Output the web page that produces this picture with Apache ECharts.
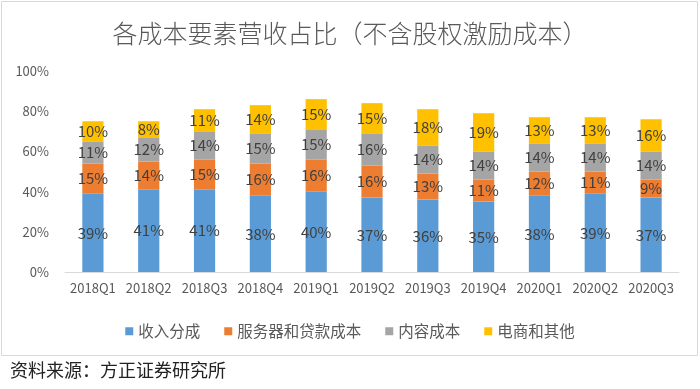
<!DOCTYPE html>
<html><head><meta charset="utf-8">
<script src="https://cdn.jsdelivr.net/npm/echarts@6/dist/echarts.min.js"></script>
<style>html,body{margin:0;padding:0;background:#fff}#c{width:700px;height:389px}</style>
</head><body><div id="c"></div>
<script>
var categories = ['2018Q1','2018Q2','2018Q3','2018Q4','2019Q1','2019Q2','2019Q3','2019Q4','2020Q1','2020Q2','2020Q3'];
var revenueShare = [39,41,41,38,40,37,36,35,38,39,37];
var serverBandwidth = [15,14,15,16,16,16,13,11,12,11,9];
var contentCost = [11,12,14,15,15,16,14,14,14,14,14];
var ecomOther = [10,8,11,14,15,15,18,19,13,13,16];
var seriesNames = ['收入分成','服务器和贷款成本','内容成本','电商和其他'];
var colors = ['#5B9BD5','#ED7D31','#A5A5A5','#FFC000'];
var font = '"Noto Sans CJK SC", "Noto Sans", sans-serif';
var chart = echarts.init(document.getElementById('c'), null, {renderer:'canvas'});
var datas = [revenueShare, serverBandwidth, contentCost, ecomOther];
var series = datas.map(function(d,i){
  return {
    name: seriesNames[i], type:'bar', stack:'total', data:d, barWidth:'38%',
    itemStyle:{color:colors[i]},
    label:{show:true, position:'inside', formatter:'{c}%', color:'#404040', fontSize:15, fontFamily:font},
    emphasis:{disabled:true}
  };
});
chart.setOption({
  animation:false,
  title:{text:'各成本要素营收占比（不含股权激励成本）', left:'center', top:16,
    textStyle:{fontSize:25, fontWeight:300, color:'#595959', fontFamily:font}},
  legend:{data:seriesNames, bottom:45, left:'center', itemWidth:8, itemHeight:8, icon:'rect', itemGap:24,
    textStyle:{fontSize:15.5, color:'#595959', fontFamily:font}},
  grid:{left:65, right:21, top:71, bottom:117},
  xAxis:{type:'category', data:categories,
    axisLine:{lineStyle:{color:'#D9D9D9'}}, axisTick:{show:false},
    axisLabel:{color:'#595959', fontSize:13, fontFamily:font, interval:0, margin:10}},
  yAxis:{type:'value', min:0, max:100, interval:20,
    axisLine:{show:false}, axisTick:{show:false}, splitLine:{show:false},
    axisLabel:{formatter:'{value}%', color:'#595959', fontSize:13, fontFamily:font, margin:16}},
  graphic:[
    {type:'rect', shape:{x:1.5, y:1.5, width:696, height:354}, style:{fill:'none', stroke:'#D9D9D9', lineWidth:1}, silent:true, z:-1},
    {type:'text', left:10, top:361, style:{text:'资料来源：方正证券研究所', fill:'#222', font:'18px "Noto Sans CJK SC"'}}
  ],
  series: series
});
</script></body></html>
